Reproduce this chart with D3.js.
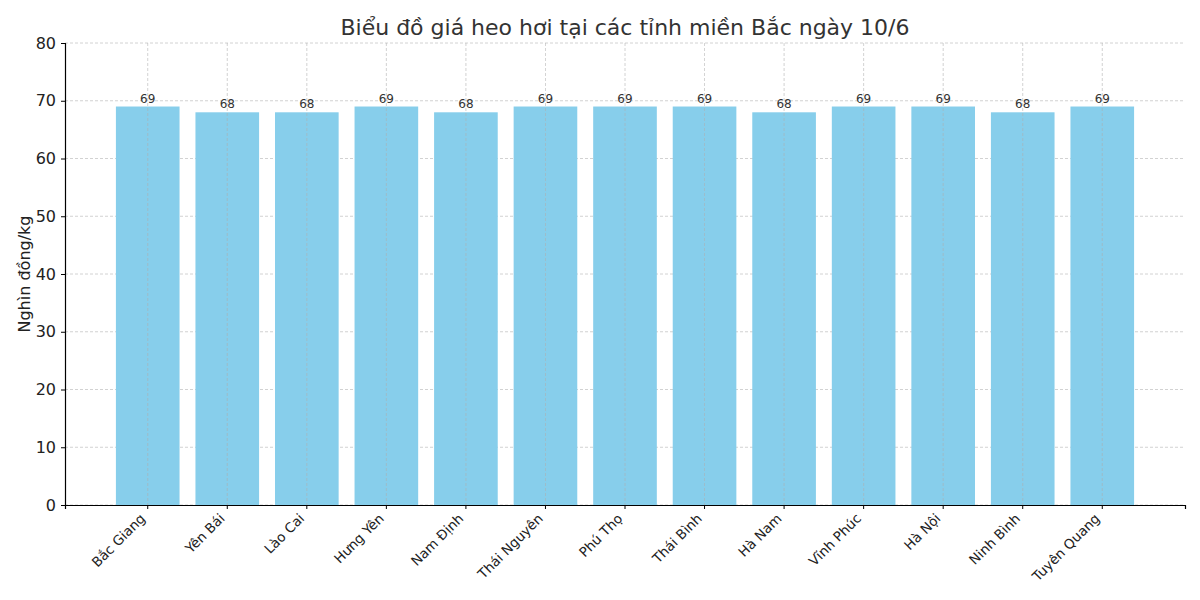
<!DOCTYPE html>
<html>
<head>
<meta charset="utf-8">
<script src="https://cdn.jsdelivr.net/npm/d3@7"></script>
<style>
  body { margin: 0; background: #fff; }
  text { font-family: "DejaVu Sans", sans-serif; }
</style>
</head>
<body>
<div id="chart"></div>
<script>
// data
const provinces = ['Bắc Giang', 'Yên Bái', 'Lào Cai', 'Hưng Yên', 'Nam Định', 'Thái Nguyên',
    'Phú Thọ', 'Thái Bình', 'Hà Nam', 'Vĩnh Phúc', 'Hà Nội', 'Ninh Bình', 'Tuyên Quang']
const prices = [69, 68, 68, 69, 68, 69, 69, 69, 68, 69, 69, 68, 69]
const yTicks = [0, 10, 20, 30, 40, 50, 60, 70, 80]

const width = 1200, height = 600
const margin = {top: 43, right: 15, bottom: 95, left: 65}
const innerW = width - margin.left - margin.right
const innerH = height - margin.top - margin.bottom

const data = provinces.map((p, i) => ({key: p, value: prices[i]}))

const svg = d3.select('#chart').append('svg')
    .attr('width', width)
    .attr('height', height)

const g = svg.append('g')
    .attr('transform', `translate(${margin.left},${margin.top})`)

// scales
const xScale = d3.scaleBand()
    .domain(provinces)
    .range([0, innerW])
    .paddingInner(0.2)
    .paddingOuter(0.64)

const yScale = d3.scaleLinear()
    .domain([0, 80])
    .range([innerH, 0])

// grid
g.append('g').selectAll('line.hgrid').data(yTicks).join('line')
    .attr('class', 'hgrid')
    .attr('x1', 0).attr('x2', innerW)
    .attr('y1', d => yScale(d)).attr('y2', d => yScale(d))
    .attr('stroke', '#b0b0b0').attr('stroke-width', 0.8)
    .attr('stroke-dasharray', '3,2').attr('opacity', 0.7)

// bars
g.selectAll('.bar').data(data).join('rect')
    .attr('class', 'bar')
    .attr('x', d => xScale(d.key))
    .attr('y', d => yScale(d.value))
    .attr('width', xScale.bandwidth())
    .attr('height', d => innerH - yScale(d.value))
    .attr('fill', '#87ceeb')

// vertical grid drawn over bars (matplotlib draws it above here)
g.append('g').selectAll('line.vgrid').data(provinces).join('line')
    .attr('class', 'vgrid')
    .attr('x1', d => xScale(d) + xScale.bandwidth() / 2)
    .attr('x2', d => xScale(d) + xScale.bandwidth() / 2)
    .attr('y1', 0).attr('y2', innerH)
    .attr('stroke', '#b0b0b0').attr('stroke-width', 0.8)
    .attr('stroke-dasharray', '3,2').attr('opacity', 0.7)

// value labels
g.selectAll('.val').data(data).join('text')
    .attr('class', 'val')
    .attr('x', d => xScale(d.key) + xScale.bandwidth() / 2)
    .attr('y', d => yScale(d.value) - 4)
    .attr('text-anchor', 'middle')
    .attr('font-size', 12)
    .attr('fill', '#333')
    .text(d => d.value)

// axes
const xAxis = d3.axisBottom(xScale).tickSize(4).tickPadding(6)
const yAxis = d3.axisLeft(yScale).tickValues(yTicks).tickSize(4).tickPadding(5)

const xAxisG = g.append('g')
    .attr('transform', `translate(0,${innerH})`)
    .call(xAxis)
xAxisG.select('.domain').attr('stroke', '#000').attr('stroke-width', 1.2)
xAxisG.selectAll('text')
    .attr('font-size', 13.5)
    .attr('fill', '#222')
    .attr('text-anchor', 'end')
    .attr('dy', '0.35em')
    .attr('transform', 'translate(-5,11) rotate(-45)')
    .attr('y', 0).attr('x', 0)

const yAxisG = g.append('g').call(yAxis)
yAxisG.select('.domain').attr('stroke', '#000').attr('stroke-width', 1.2)
yAxisG.selectAll('text').attr('font-size', 16).attr('fill', '#222')

// axis title
svg.append('text')
    .attr('transform', `translate(30,${margin.top + innerH / 2}) rotate(-90)`)
    .attr('text-anchor', 'middle')
    .attr('font-size', 16)
    .attr('fill', '#222')
    .text('Nghìn đồng/kg')

// title
svg.append('text')
    .attr('x', margin.left + innerW / 2)
    .attr('y', 35)
    .attr('text-anchor', 'middle')
    .attr('font-size', 22)
    .attr('fill', '#333')
    .text('Biểu đồ giá heo hơi tại các tỉnh miền Bắc ngày 10/6')
</script>
</body>
</html>
